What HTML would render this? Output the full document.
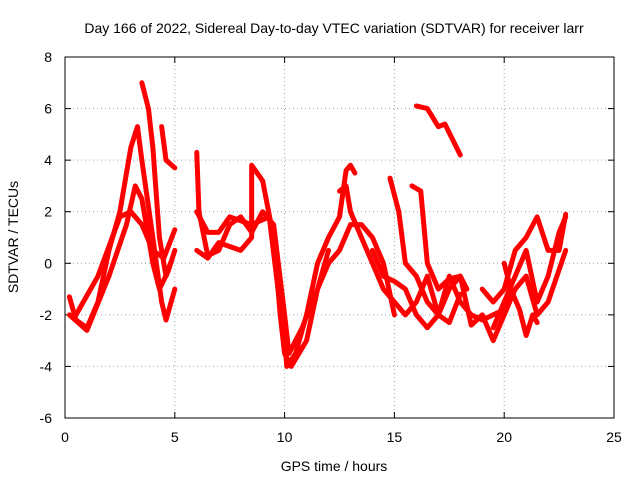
<!DOCTYPE html>
<html><head><meta charset="utf-8"><style>
body{margin:0;background:#fff}
svg text{font-family:"Liberation Sans",sans-serif;font-size:14px;fill:#000}
</style></head><body>
<svg id="chart" width="640" height="480" viewBox="0 0 640 480" xmlns="http://www.w3.org/2000/svg">
<rect width="640" height="480" fill="#fff"/>
<text x="334" y="33" text-anchor="middle">Day 166 of 2022, Sidereal Day-to-day VTEC variation (SDTVAR) for receiver larr</text>
<text x="334" y="471" text-anchor="middle">GPS time / hours</text>
<text x="0" y="0" text-anchor="middle" transform="translate(18,237) rotate(-90)">SDTVAR / TECUs</text>
<g id="grid"></g><g id="ticks"></g><g id="series"></g>
<rect x="65" y="57" width="549" height="361" fill="none" stroke="#000" stroke-width="1"/>
</svg>
<script>
const xTicks=[0,5,10,15,20,25];
const yTicks=[-6,-4,-2,0,2,4,6,8];
const trackA=[[0.2,-1.3],[0.5,-2.2],[1,-2.5],[1.5,-1.5],[2,0.5],[2.5,2],[3,4.5],[3.3,5.3],[3.5,4],[4,1],[4.4,-1.5],[4.6,-2.2],[5,-1]];
const trackB=[[0.2,-2],[1,-2.6],[2,-0.5],[2.8,1.5],[3.2,3],[3.5,2.5],[4,0],[4.3,-1],[4.7,-0.3],[5,0.5]];
const trackC=[[0.5,-2],[1.5,-0.5],[2.5,1.8],[3,2],[3.5,1.5],[4,0.5],[4.5,0.2],[5,1.3]];
const trackD=[[3.5,7],[3.8,6],[4,4.5],[4.3,1],[4.6,-0.5],[4.8,0]];
const trackE=[[4.4,5.3],[4.6,4],[5,3.7]];
const trackF=[[6,4.3],[6.1,2],[6.5,0.3],[7,0.5],[7.5,1.5],[8,1.8],[8.5,1.2],[9,2],[9.5,1.5],[10,-2],[10.2,-3.5],[10.8,-2.5],[11.5,-1],[12,0.5]];
const trackG=[[6,2],[6.5,1.2],[7,1.2],[7.5,1.8],[8.5,1.5],[9.3,1.8],[9.7,-1],[10,-3],[10.1,-4],[10.5,-3.5],[11,-2],[11.5,0],[12,1],[12.5,1.8],[12.8,3.6],[13,3.8],[13.2,3.5]];
const trackH=[[6,0.5],[6.5,0.2],[7,0.8],[8,0.5],[8.5,1],[8.5,3.8],[9,3.2],[9.5,1],[9.8,-2],[10,-3.5],[10.3,-4],[11,-3],[11.5,-1],[12,0],[12.5,0.5],[13,1.5],[13.5,1.5],[14,1],[14.5,0],[15,-2]];
const trackI=[[12.5,2.8],[12.8,3],[13,2],[13.5,1],[14,0],[14.5,-1],[15,-1.5],[15.5,-2],[16,-1.5],[16.5,-0.5],[17,-2],[17.5,-2.3],[18,-1.2]];
const trackJ=[[16,6.1],[16.5,6],[17,5.3],[17.3,5.4],[18,4.2]];
const trackK=[[14.8,3.3],[15.2,2],[15.5,0],[16,-0.5],[16.5,-1.5],[17,-2],[17.5,-1],[18,-0.5],[18.3,-1]];
const trackL=[[15.8,3],[16.2,2.8],[16.5,0],[17,-1],[17.5,-0.6],[18,-0.5],[18.5,-2.4],[19,-2],[19.5,-3],[20,-2],[20.5,-1],[21,-0.5],[21.5,-2],[22,-1.5],[22.8,0.5]];
const trackM=[[19,-1],[19.5,-1.5],[20,-1],[20.5,0.5],[21,1],[21.5,1.8],[22,0.5],[22.5,0.5],[22.8,1.9]];
const trackN=[[19.5,-2.5],[20,-1.5],[20.5,-0.5],[21,0.5],[21.5,-1.5],[22,-0.5],[22.5,1.2],[22.8,1.8]];
const trackO=[[14,0.5],[14.5,-0.5],[15,-0.7],[15.5,-1],[16,-2],[16.5,-2.5],[17,-2],[17.5,-0.5],[18,-1.5],[18.5,-2],[19,-2.2],[20,-1.8],[20.3,-0.8]];
const trackP=[[20,0],[20.3,-1],[20.7,-1.8],[21,-2.8],[21.3,-2],[21.5,-2.3]];
const tracks=[trackA,trackB,trackC,trackD,trackE,trackF,trackG,trackH,trackI,trackJ,trackK,trackL,trackM,trackN,trackO,trackP];
const NS="http://www.w3.org/2000/svg";
const X0=65,X1=614,Y0=418,Y1=57;
const sx=v=>X0+(v-0)/(25-0)*(X1-X0);
const sy=v=>Y0-(v-(-6))/(8-(-6))*(Y0-Y1);
const grid=document.getElementById('grid'),ticks=document.getElementById('ticks'),series=document.getElementById('series');
function mk(tag,attrs,parent){const e=document.createElementNS(NS,tag);for(const k in attrs)e.setAttribute(k,attrs[k]);parent.appendChild(e);return e;}
xTicks.forEach(t=>{const x=sx(t);
 if(t>0&&t<25){const g=mk('line',{x1:x,x2:x,y1:Y0,y2:Y1,stroke:'#a0a0a0','stroke-dasharray':'1,3'},grid);
 
 }
 mk('line',{x1:x,x2:x,y1:Y0,y2:Y0-6,stroke:'#000'},ticks);mk('line',{x1:x,x2:x,y1:Y1,y2:Y1+6,stroke:'#000'},ticks);
 const l=mk('text',{x:x,y:Y0+24,'text-anchor':'middle'},ticks);l.textContent=t;
 
 });
yTicks.forEach(t=>{const y=sy(t);
 if(t>-6&&t<8){const g=mk('line',{x1:X0,x2:X1,y1:y,y2:y,stroke:'#a0a0a0','stroke-dasharray':'1,3'},grid);
 
 }
 mk('line',{x1:X0,x2:X0+6,y1:y,y2:y,stroke:'#000'},ticks);mk('line',{x1:X1,x2:X1-6,y1:y,y2:y,stroke:'#000'},ticks);
 const l=mk('text',{x:X0-13,y:y+5,'text-anchor':'end'},ticks);l.textContent=t;
 
 });
tracks.forEach((tr,i)=>{
 const p=mk('polyline',{points:tr.map(d=>sx(d[0])+','+sy(d[1])).join(' '),fill:'none',stroke:'#f00','stroke-width':5,'stroke-linejoin':'round','stroke-linecap':'round'},series);
 
 
});
</script>
</body></html>
